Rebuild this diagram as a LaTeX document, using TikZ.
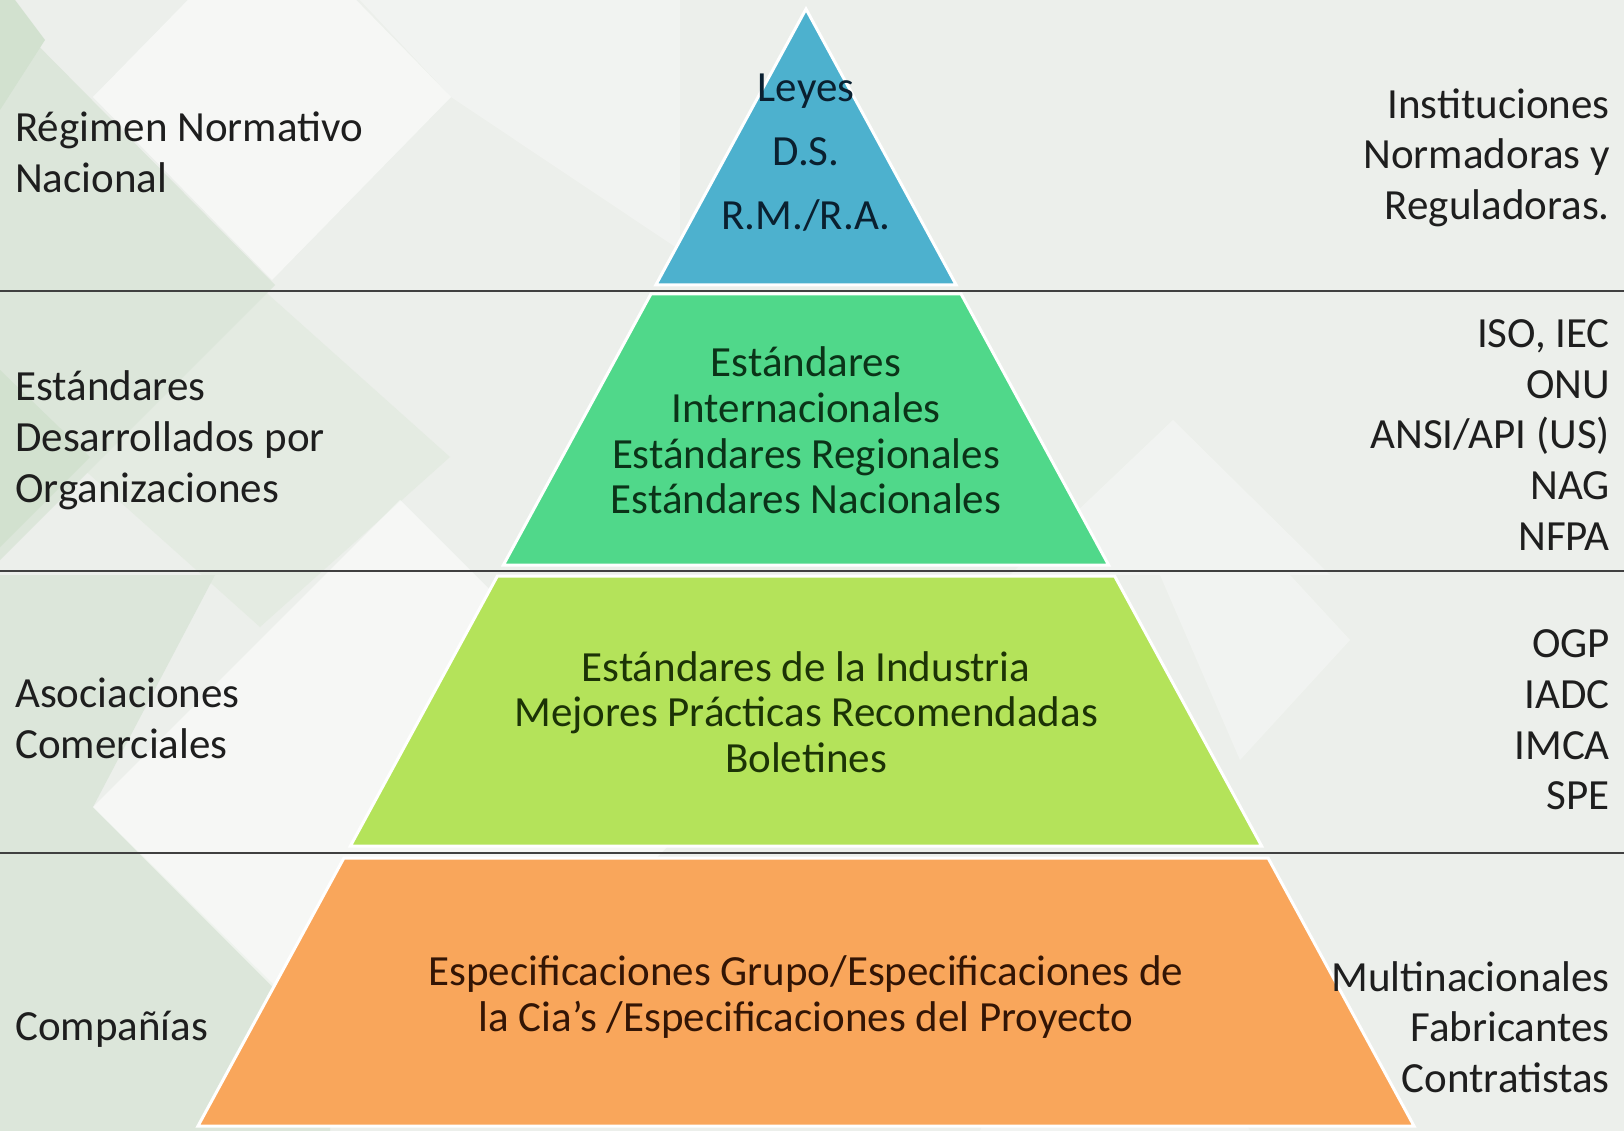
\documentclass[tikz,border=0pt]{standalone}
\usepackage{fontspec}
\setmainfont{Carlito}
\definecolor{bgbase}{HTML}{ECEFEB}
\definecolor{bggreen}{HTML}{DCE6DA}
\definecolor{bgdeep}{HTML}{D2E1CF}
\definecolor{bgmid}{HTML}{E4EBE2}
\definecolor{blueband}{HTML}{4DB1CE}
\definecolor{greenband}{HTML}{50D88A}
\definecolor{limeband}{HTML}{B4E35A}
\definecolor{orangeband}{HTML}{F9A65B}
\definecolor{labtext}{HTML}{1E1E1E}
\definecolor{bluetext}{HTML}{0A2030}
\definecolor{greentext}{HTML}{0B3318}
\definecolor{limetext}{HTML}{1C3306}
\definecolor{orangetext}{HTML}{331505}
\definecolor{sepgray}{HTML}{404040}
\begin{document}
\begin{tikzpicture}[x=1pt,y=-1pt,
  lab/.style={font=\fontsize{43}{52}\selectfont, inner sep=0pt, text=labtext},
  leftlab/.style={lab, anchor=base west},
  rightlab/.style={lab, anchor=base east},
  midlab/.style={lab, anchor=base},
  band/.style={draw=white, line width=3pt},
  sepline/.style={draw=sepgray, line width=2.4pt},
  bgwhite/.style={fill=white, fill opacity=0.55, draw=none},
  bgfaint/.style={fill=white, fill opacity=0.3, draw=none}]
\useasboundingbox (0,0) rectangle (1624,1131);
% background
\fill[bgbase] (0,0) rectangle (1624,1131);
\begin{scope}
\clip (0,0) rectangle (1624,1131);
\fill[bgmid] (70,457) -- (260,287) -- (450,457) -- (260,627) -- cycle;
\fill[bggreen] (0,7) -- (275,285) -- (0,560) -- cycle;
\fill[bggreen] (0,575) -- (215,575) -- (93,807) -- (330,1040) -- (330,1131) -- (0,1131) -- cycle;
\fill[bgdeep] (0,370) -- (90,457) -- (0,547) -- cycle;
\fill[bgdeep] (0,-20) -- (45,40) -- (0,110) -- cycle;
\path[bgwhite] (93,97) -- (272,-86) -- (451,97) -- (272,280) -- cycle;
\path[bgfaint] (360,0) -- (680,0) -- (680,250) -- (451,97) -- cycle;
\path[bgwhite] (93,807) -- (400,500) -- (707,807) -- (400,1114) -- cycle;
\path[bgfaint] (1173,420) -- (1330,575) -- (1010,575) -- cycle;
\path[bgfaint] (1160,575) -- (1290,575) -- (1350,640) -- (1240,760) -- cycle;
\path[bgfaint] (1100,860) -- (1250,1131) -- (980,1131) -- cycle;
\end{scope}
% pyramid bands
\path[band, fill=blueband] (806,9) -- (956.2,285) -- (655.8,285) -- cycle;
\path[band, fill=greenband] (650.9,294) -- (961.1,294) -- (1108.6,565) -- (503.4,565) -- cycle;
\path[band, fill=limeband] (497.4,576) -- (1114.6,576) -- (1261.6,846) -- (350.4,846) -- cycle;
\path[band, fill=orangeband] (343.9,858) -- (1268.1,858) -- (1414,1126) -- (198,1126) -- cycle;
% separators
\coordinate (s1l) at (0,291); \coordinate (s1r) at (1624,291);
\coordinate (s2l) at (0,571); \coordinate (s2r) at (1624,571);
\coordinate (s3l) at (0,853); \coordinate (s3r) at (1624,853);
\draw[sepline] (s1l) -- (s1r);
\draw[sepline] (s2l) -- (s2r);
\draw[sepline] (s3l) -- (s3r);
% left labels
\node[leftlab] (la1) at (15,142) {Régimen Normativo};
\node[leftlab] (la2) at (15,193) {Nacional};
\node[leftlab] (lb1) at (15,400) {Estándares};
\node[leftlab] (lb2) at (15,451) {Desarrollados por};
\node[leftlab] (lb3) at (15,502) {Organizaciones};
\node[leftlab] (lc1) at (15,707) {Asociaciones};
\node[leftlab] (lc2) at (15,758) {Comerciales};
\node[leftlab] (ld1) at (15,1040) {Compañías};
% right labels
\node[rightlab] (ra1) at (1610,119) {Instituciones};
\node[rightlab] (ra2) at (1610,169) {Normadoras y};
\node[rightlab] (ra3) at (1610,220) {Reguladoras.};
\node[rightlab] (rb1) at (1610,348) {ISO, IEC};
\node[rightlab] (rb2) at (1610,398) {ONU};
\node[rightlab] (rb3) at (1610,448) {ANSI/API (US)};
\node[rightlab] (rb4) at (1610,499) {NAG};
\node[rightlab] (rb5) at (1610,550) {NFPA};
\node[rightlab] (rc1) at (1610,657) {OGP};
\node[rightlab] (rc2) at (1610,708) {IADC};
\node[rightlab] (rc3) at (1610,759) {IMCA};
\node[rightlab] (rc4) at (1610,809) {SPE};
\node[rightlab] (rd1) at (1610,991) {Multinacionales};
\node[rightlab] (rd2) at (1610,1041) {Fabricantes};
\node[rightlab] (rd3) at (1610,1092) {Contratistas};
% centre labels
\node[midlab, text=bluetext] (ma1) at (806,102) {Leyes};
\node[midlab, text=bluetext] (ma2) at (806,166) {D.S.};
\node[midlab, text=bluetext] (ma3) at (806,230) {R.M./R.A.};
\node[midlab, text=greentext] (mb1) at (806,376) {Estándares};
\node[midlab, text=greentext] (mb2) at (806,422) {Internacionales};
\node[midlab, text=greentext] (mb3) at (806,468) {Estándares Regionales};
\node[midlab, text=greentext] (mb4) at (806,513) {Estándares Nacionales};
\node[midlab, text=limetext] (mc1) at (806,681) {Estándares de la Industria};
\node[midlab, text=limetext] (mc2) at (806,726) {Mejores Prácticas Recomendadas};
\node[midlab, text=limetext] (mc3) at (806,772) {Boletines};
\node[midlab, text=orangetext] (md1) at (806,985) {Especificaciones Grupo/Especificaciones de};
\node[midlab, text=orangetext] (md2) at (806,1031) {la Cia’s /Especificaciones del Proyecto};
\end{tikzpicture}
\end{document}
